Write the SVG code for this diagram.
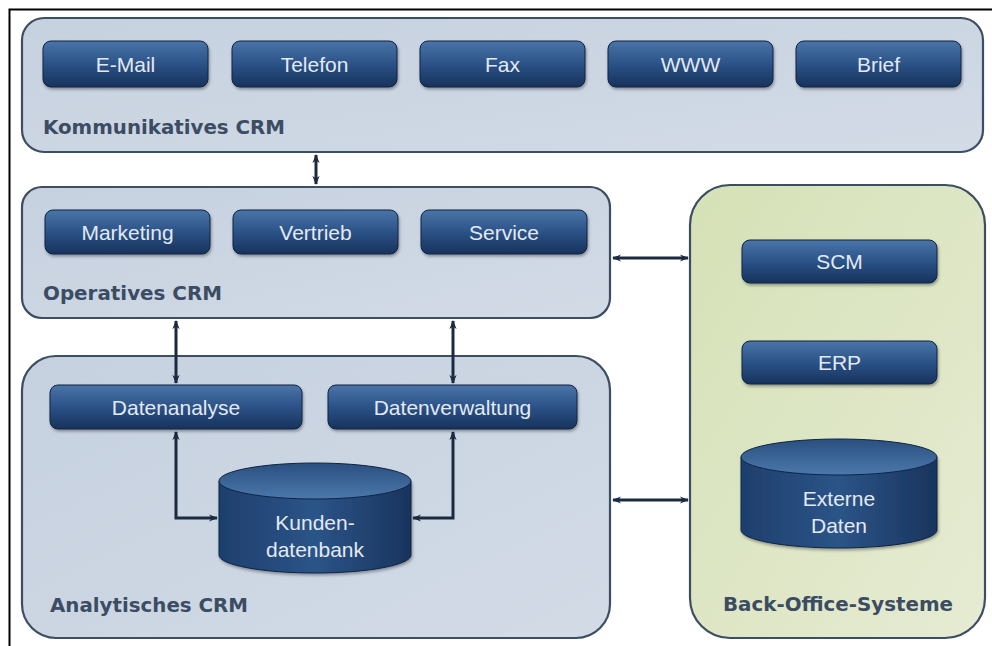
<svg xmlns="http://www.w3.org/2000/svg" width="992" height="646" viewBox="0 0 992 646">
<defs>
  <linearGradient id="gPanel" x1="0" y1="0" x2="1" y2="1">
    <stop offset="0" stop-color="#c6d1e0"/>
    <stop offset="1" stop-color="#d2dbe6"/>
  </linearGradient>
  <linearGradient id="gGreen" x1="0" y1="0" x2="1" y2="1">
    <stop offset="0" stop-color="#d5e1b6"/>
    <stop offset="1" stop-color="#e6ebd3"/>
  </linearGradient>
  <linearGradient id="gBtn" x1="0" y1="0" x2="0" y2="1">
    <stop offset="0" stop-color="#4a75a8"/>
    <stop offset="0.5" stop-color="#2b5287"/>
    <stop offset="1" stop-color="#17325c"/>
  </linearGradient>
  <linearGradient id="gCyl" x1="0" y1="0" x2="1" y2="0">
    <stop offset="0" stop-color="#1e3f6d"/>
    <stop offset="0.5" stop-color="#2c5488"/>
    <stop offset="1" stop-color="#18345d"/>
  </linearGradient>
  <linearGradient id="gCylTop" x1="0" y1="0" x2="0" y2="1">
    <stop offset="0" stop-color="#2a4f80"/>
    <stop offset="1" stop-color="#4c78ab"/>
  </linearGradient>
  <filter id="sh" x="-10%" y="-10%" width="120%" height="130%">
    <feDropShadow dx="1" dy="2" stdDeviation="1.5" flood-color="#000" flood-opacity="0.35"/>
  </filter>
  <marker id="ah" viewBox="0 0 10 10" refX="9" refY="5" markerWidth="9" markerHeight="9" markerUnits="userSpaceOnUse" orient="auto-start-reverse">
    <path d="M0,1 L10,5 L0,9 L3,5 Z" fill="#1b2a40"/>
  </marker>
</defs>
<style>
  .panel{fill:url(#gPanel);stroke:#3d4d62;stroke-width:2.2}
  .green{fill:url(#gGreen);stroke:#3d4d62;stroke-width:2.2}
  .btn{fill:url(#gBtn);stroke:#0f2443;stroke-width:1;filter:url(#sh)}
  .bt{font-family:"Liberation Sans",Arial,sans-serif;font-size:21px;fill:#e3e9f2;text-anchor:middle}
  .pl{font-family:"DejaVu Sans",Verdana,sans-serif;font-size:19px;font-weight:bold;fill:#3b4c63}
  .con{fill:none;stroke:#1b2a40;stroke-width:3;marker-start:url(#ah);marker-end:url(#ah)}
  .cyl{fill:url(#gCyl);stroke:#0f2443;stroke-width:1}
  .cyltop{fill:url(#gCylTop);stroke:#0f2443;stroke-width:1}
</style>
<rect x="0" y="0" width="992" height="646" fill="#ffffff"/>
<path d="M9.5,646 V9.5 H992" fill="none" stroke="#000" stroke-width="2"/>

<g id="kommunikatives-crm">
  <rect class="panel" x="22" y="18" width="961" height="134" rx="22"/>
  <text class="pl" x="43" y="134" textLength="242" lengthAdjust="spacingAndGlyphs">Kommunikatives CRM</text>
</g>
<g id="email"><rect class="btn" x="43" y="41" width="165" height="46" rx="8"/><text class="bt" x="125.5" y="72">E-Mail</text></g>
<g id="telefon"><rect class="btn" x="232" y="41" width="165" height="46" rx="8"/><text class="bt" x="314.5" y="72">Telefon</text></g>
<g id="fax"><rect class="btn" x="420" y="41" width="165" height="46" rx="8"/><text class="bt" x="502.5" y="72">Fax</text></g>
<g id="www"><rect class="btn" x="608" y="41" width="165" height="46" rx="8"/><text class="bt" x="690.5" y="72">WWW</text></g>
<g id="brief"><rect class="btn" x="796" y="41" width="165" height="46" rx="8"/><text class="bt" x="878.5" y="72">Brief</text></g>

<g id="operatives-crm">
  <rect class="panel" x="22" y="187" width="588" height="131" rx="20"/>
  <text class="pl" x="43" y="300" textLength="179" lengthAdjust="spacingAndGlyphs">Operatives CRM</text>
</g>
<g id="marketing"><rect class="btn" x="45" y="210" width="165" height="44" rx="8"/><text class="bt" x="127.5" y="240">Marketing</text></g>
<g id="vertrieb"><rect class="btn" x="233" y="210" width="165" height="44" rx="8"/><text class="bt" x="315.5" y="240">Vertrieb</text></g>
<g id="service"><rect class="btn" x="421" y="210" width="166" height="44" rx="8"/><text class="bt" x="504" y="240">Service</text></g>

<g id="analytisches-crm">
  <rect class="panel" x="22" y="356" width="588" height="282" rx="34"/>
  <text class="pl" x="50" y="612" textLength="198" lengthAdjust="spacingAndGlyphs">Analytisches CRM</text>
</g>
<g id="datenanalyse"><rect class="btn" x="50" y="385" width="252" height="44" rx="8"/><text class="bt" x="176" y="415">Datenanalyse</text></g>
<g id="datenverwaltung"><rect class="btn" x="328" y="385" width="249" height="44" rx="8"/><text class="bt" x="452.5" y="415">Datenverwaltung</text></g>
<g id="kundendatenbank">
  <path class="cyl" d="M219,481 V555 A96,18 0 0 0 411,555 V481 Z" filter="url(#sh)"/>
  <ellipse class="cyltop" cx="315" cy="481" rx="96" ry="18"/>
  <text class="bt" x="315" y="530">Kunden-</text>
  <text class="bt" x="315" y="557">datenbank</text>
</g>

<g id="back-office-systeme">
  <rect class="green" x="690" y="185" width="295" height="453" rx="40"/>
  <text class="pl" x="723" y="611" textLength="230" lengthAdjust="spacingAndGlyphs">Back-Office-Systeme</text>
</g>
<g id="scm"><rect class="btn" x="742" y="240" width="195" height="43" rx="8"/><text class="bt" x="839.5" y="269">SCM</text></g>
<g id="erp"><rect class="btn" x="742" y="341" width="195" height="43" rx="8"/><text class="bt" x="839.5" y="370">ERP</text></g>
<g id="externe-daten">
  <path class="cyl" d="M741,457 V530 A98,18 0 0 0 937,530 V457 Z" filter="url(#sh)"/>
  <ellipse class="cyltop" cx="839" cy="457" rx="98" ry="18"/>
  <text class="bt" x="839" y="506">Externe</text>
  <text class="bt" x="839" y="533">Daten</text>
</g>

<g id="connectors">
  <path class="con" d="M316,155 V184"/>
  <path class="con" d="M613,258 H688"/>
  <path class="con" d="M176,321 V383"/>
  <path class="con" d="M453,321 V383"/>
  <path class="con" d="M613,500 H688"/>
  <path class="con" d="M176,432 V518 H217"/>
  <path class="con" d="M453,432 V518 H413"/>
</g>
</svg>
